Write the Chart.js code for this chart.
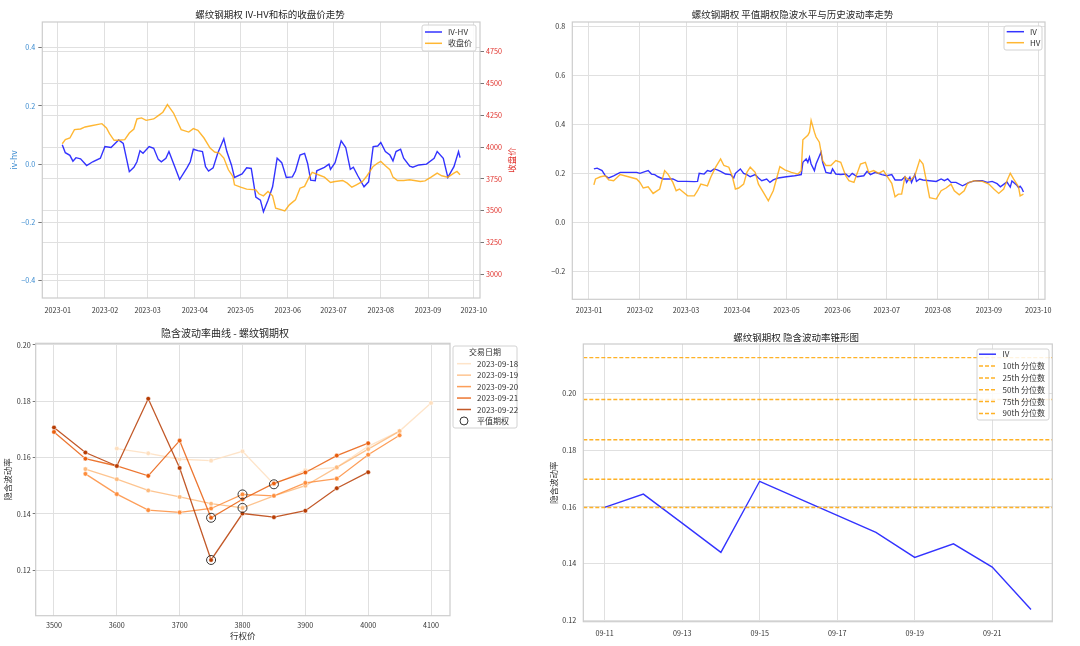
<!DOCTYPE html>
<html lang="zh">
<head>
<meta charset="UTF-8">
<title>螺纹钢期权 波动率分析</title>
<script src="https://cdn.jsdelivr.net/npm/chart.js"></script>
<style>
  body { margin: 0; background: #fff; }
  #wrap { position: relative; width: 1080px; height: 646px; overflow: hidden; }
  canvas { position: absolute; }
</style>
</head>
<body>
<div id="wrap">
  <canvas id="c1" width="540" height="320" style="left:0;top:0"></canvas>
  <canvas id="c2" width="540" height="320" style="left:540px;top:0"></canvas>
  <canvas id="c3" width="540" height="326" style="left:0;top:320px"></canvas>
  <canvas id="c4" width="540" height="326" style="left:540px;top:320px"></canvas>
</div>
<script>
  // ---- 左上：IV-HV 与标的收盘价 ----
  const ivhvDates = ['01-04','01-06','01-09','01-11','01-13','01-16','01-20','01-24','01-29','02-01','02-05','02-10','02-13','02-17','02-20','02-22','02-24','02-26','03-02','03-05','03-08','03-10','03-13','03-15','03-18','03-22','03-27','03-29','03-31','04-03','04-06','04-08','04-10','04-13','04-16','04-20','04-22','04-25','04-27','05-02','05-05','05-08','05-11','05-14','05-16','05-19','05-22','05-25','05-28','05-31','06-04','06-06','06-09','06-12','06-14','06-16','06-19','06-20','06-25','06-28','06-29','07-02','07-06','07-09','07-12','07-14','07-17','07-21','07-24','07-27','07-30','08-01','08-04','08-07','08-09','08-11','08-14','08-16','08-20','08-22','08-26','08-31','09-05','09-07','09-11','09-14','09-18','09-21','09-22'];
  const ivhvValues = [0.066,0.039,0.030,0.010,0.022,0.018,-0.005,0.008,0.020,0.060,0.057,0.083,0.071,-0.026,-0.011,0.008,0.046,0.037,0.060,0.054,0.016,0.008,0.020,0.043,0.002,-0.053,-0.011,0.008,0.051,0.046,0.043,-0.009,-0.024,-0.013,0.037,0.087,0.043,-0.003,-0.046,-0.034,-0.013,-0.015,-0.113,-0.124,-0.164,-0.124,-0.078,0.020,0.005,-0.046,-0.044,-0.024,0.031,0.037,0.002,-0.055,-0.057,-0.023,-0.011,0.000,-0.018,0.005,0.080,0.057,-0.018,-0.011,-0.041,-0.078,-0.061,0.060,0.062,0.074,0.043,0.031,0.011,0.043,0.051,0.020,-0.007,-0.011,-0.003,0.000,0.020,0.043,0.020,-0.046,-0.009,0.043,0.022];
  const closeDates = ['01-04','01-06','01-09','01-12','01-16','01-19','01-23','01-30','02-02','02-04','02-07','02-10','02-14','02-17','02-20','02-22','02-25','02-28','03-05','03-08','03-11','03-14','03-18','03-21','03-23','03-28','03-31','04-03','04-07','04-11','04-14','04-17','04-20','04-23','04-26','04-27','05-01','05-05','05-11','05-13','05-16','05-19','05-22','05-24','05-28','05-30','06-02','06-06','06-09','06-12','06-15','06-17','06-21','06-25','06-29','07-02','07-07','07-10','07-13','07-16','07-20','07-23','07-27','07-30','08-01','08-04','08-07','08-09','08-12','08-16','08-20','08-23','08-27','08-30','09-03','09-07','09-10','09-14','09-18','09-20','09-22'];
  const closeValues = [4026,4058,4071,4137,4142,4158,4168,4184,4150,4105,4053,4053,4058,4110,4142,4221,4229,4210,4221,4247,4274,4334,4268,4189,4137,4118,4145,4131,4071,3992,3961,3953,3913,3821,3768,3703,3684,3669,3663,3632,3616,3650,3616,3519,3506,3498,3545,3584,3676,3690,3763,3800,3782,3763,3721,3729,3737,3716,3684,3703,3729,3774,3847,3874,3887,3853,3821,3763,3737,3737,3742,3737,3729,3734,3763,3795,3774,3763,3795,3808,3782];

  // ---- 右上：平值期权隐波与历史波动率 ----
  const ivDates = ['01-04','01-06','01-09','01-11','01-13','01-16','01-20','01-30','02-01','02-04','02-06','02-08','02-10','02-12','02-15','02-21','02-24','03-01','03-06','03-08','03-09','03-12','03-14','03-16','03-18','03-20','03-22','03-25','03-28','03-30','03-31','04-03','04-05','04-07','04-09','04-12','04-14','04-16','04-19','04-21','04-23','04-26','05-01','05-06','05-10','05-11','05-13','05-14','05-15','05-16','05-18','05-19','05-22','05-23','05-25','05-28','05-29','05-31','06-03','06-06','06-08','06-10','06-13','06-17','06-19','06-21','06-24','06-28','07-01','07-04','07-06','07-10','07-12','07-13','07-15','07-16','07-18','07-19','07-21','07-23','07-27','07-31','08-03','08-05','08-07','08-09','08-12','08-16','08-20','08-24','08-28','08-31','09-03','09-06','09-08','09-11','09-12','09-13','09-14','09-15','09-18','09-19','09-20','09-21','09-22'];
  const ivValues = [0.218,0.221,0.211,0.190,0.181,0.190,0.204,0.204,0.200,0.207,0.211,0.197,0.195,0.186,0.177,0.177,0.167,0.167,0.166,0.167,0.200,0.197,0.211,0.208,0.218,0.214,0.208,0.197,0.195,0.181,0.200,0.218,0.200,0.195,0.186,0.195,0.181,0.170,0.177,0.163,0.173,0.181,0.186,0.190,0.195,0.245,0.259,0.245,0.266,0.238,0.211,0.238,0.286,0.245,0.204,0.200,0.218,0.197,0.195,0.197,0.186,0.200,0.186,0.190,0.208,0.195,0.204,0.195,0.190,0.195,0.173,0.173,0.186,0.163,0.184,0.163,0.195,0.167,0.177,0.173,0.170,0.167,0.177,0.170,0.177,0.163,0.163,0.149,0.163,0.170,0.170,0.163,0.167,0.158,0.145,0.160,0.1645,0.1543,0.144,0.169,0.151,0.142,0.147,0.1388,0.124];
  const hvDates = ['01-04','01-05','01-08','01-11','01-13','01-16','01-20','01-30','02-01','02-03','02-06','02-09','02-13','02-16','02-18','02-21','02-23','02-25','03-02','03-06','03-08','03-10','03-14','03-16','03-19','03-22','03-24','03-27','03-29','03-31','04-02','04-05','04-07','04-09','04-12','04-14','04-17','04-20','04-23','04-27','04-30','05-04','05-08','05-10','05-11','05-14','05-15','05-16','05-18','05-19','05-21','05-23','05-25','05-28','05-31','06-03','06-06','06-08','06-11','06-15','06-18','06-20','06-23','06-26','06-29','07-01','07-04','07-06','07-08','07-10','07-12','07-15','07-18','07-21','07-23','07-25','07-27','07-31','08-03','08-06','08-09','08-11','08-14','08-17','08-19','08-23','08-28','09-01','09-04','09-07','09-10','09-12','09-14','09-16','09-19','09-20','09-22'];
  const hvValues = [0.153,0.177,0.186,0.190,0.173,0.170,0.195,0.177,0.163,0.140,0.145,0.118,0.136,0.211,0.197,0.163,0.129,0.136,0.108,0.108,0.129,0.156,0.149,0.184,0.225,0.259,0.232,0.225,0.190,0.136,0.140,0.156,0.204,0.225,0.204,0.156,0.122,0.088,0.129,0.227,0.214,0.204,0.197,0.211,0.337,0.355,0.368,0.416,0.368,0.348,0.327,0.252,0.232,0.232,0.252,0.245,0.190,0.170,0.163,0.238,0.245,0.204,0.211,0.200,0.211,0.190,0.159,0.104,0.115,0.115,0.186,0.170,0.190,0.255,0.238,0.170,0.101,0.095,0.129,0.140,0.156,0.129,0.112,0.129,0.159,0.170,0.167,0.156,0.136,0.118,0.136,0.170,0.200,0.177,0.145,0.108,0.115];

  // ---- 左下：隐含波动率曲线 ----
  const strikes = [3500,3550,3600,3650,3700,3750,3800,3850,3900,3950,4000,4050,4100];
  const tradeDates = ['2023-09-18','2023-09-19','2023-09-20','2023-09-21','2023-09-22'];
  const smile0918 = [null,null,0.1632,0.1615,0.1594,0.1589,0.1622,0.1505,0.1555,0.1565,0.1640,0.1694,0.1794];
  const smile0919 = [null,0.1559,0.1523,0.1483,0.1460,0.1436,0.1421,0.1464,0.1500,0.1565,0.1630,0.1694,null];
  const smile0920 = [null,0.1542,0.1470,0.1413,0.1405,0.1419,0.1469,0.1464,0.1510,0.1525,0.1610,0.1679,null];
  const smile0921 = [0.1691,0.1596,0.1570,0.1535,0.1660,0.1386,0.1452,0.1508,0.1547,0.1607,0.1651,null,null];
  const smile0922 = [0.1707,0.1618,0.1570,0.1809,0.1563,0.1236,0.1401,0.1388,0.1411,0.1491,0.1548,null,null];
  const atmStrikes = [3850,3800,3800,3750,3750];
  const atmIV = [0.1505,0.1421,0.1469,0.1386,0.1236];

  // ---- 右下：隐含波动率锥形图 ----
  const coneDates = ['09-11','09-12','09-13','09-14','09-15','09-18','09-19','09-20','09-21','09-22'];
  const coneIV = [0.1598,0.1645,0.1543,0.144,0.169,0.151,0.1422,0.147,0.1388,0.1239];
  const quantileNames = ['10th','25th','50th','75th','90th'];
  const quantileValues = [0.1598,0.1697,0.1836,0.1978,0.2125];

  // ---- 刻度 ----
  const monthTicks = ['01-01','02-01','03-01','04-01','05-01','06-01','07-01','08-01','09-01','10-01'];
  const ivhvTicks = [-0.4,-0.2,0,0.2,0.4];
  const closeTicks = [3000,3250,3500,3750,4000,4250,4500,4750];
  const volTicks = [-0.2,0,0.2,0.4,0.6,0.8];
  const strikeTicks = [3500,3600,3700,3800,3900,4000,4100];
  const smileTicks = [0.12,0.14,0.16,0.18,0.20];
  const coneTicks = [0.12,0.14,0.16,0.18,0.20];
  const coneDateTicks = ['09-11','09-13','09-15','09-17','09-19','09-21'];

  const BLUE = 'rgba(0,0,255,0.8)';
  const ORANGE = 'rgba(255,165,0,0.8)';
  const DASH_ORANGE = 'rgba(255,165,0,0.85)';
  const SMILE_COLORS = ['#fedfbf','#fdba7d','#fd8d3c','#e95e0d','#b73c03'];
  const GRID = '#e0e0e0';
  const FRAME = '#cccccc';
  const TEXT = '#333333';
  const TICKBLUE = '#3b8bd0';
  const TICKRED = '#e0302a';
  const FONT = '"Noto Sans CJK SC", "DejaVu Sans", sans-serif';

  Chart.defaults.font.family = FONT;
  Chart.defaults.color = TEXT;

  function dayIndex(md) {
    const [m, d] = md.split('-').map(Number);
    return (Date.UTC(2023, m - 1, d) - Date.UTC(2023, 0, 1)) / 86400000;
  }
  function series(dates, values) {
    return dates.map((d, i) => ({ x: dayIndex(d), y: values[i] }));
  }
  function smileSeries(values) {
    return strikes.map((s, i) => ({ x: s, y: values[i] })).filter(p => p.y !== null);
  }
  function fmt(v, dec) {
    return (v < -1e-9 ? '\u2212' : '') + Math.abs(v).toFixed(dec);
  }
  function withAlpha(hex, a) {
    const n = parseInt(hex.slice(1), 16);
    return `rgba(${n >> 16},${(n >> 8) & 255},${n & 255},${a})`;
  }

  function axis(o) {
    return {
      type: 'linear', position: o.position, min: o.min, max: o.max,
      afterBuildTicks: s => { s.ticks = o.ticks.map(v => ({ value: v })); },
      afterFit: s => { if (o.horizontal) s.height = o.size; else s.width = o.size; },
      grid: { color: GRID, lineWidth: 1, drawTicks: !!o.tickLen, tickLength: o.tickLen || 0, tickColor: '#777' },
      border: { display: false },
      ticks: { autoSkip: false, maxRotation: 0, minRotation: 0, padding: o.pad, color: o.color || TEXT, font: { size: 7.2 }, callback: o.fmt },
      title: o.title ? { display: true, text: o.title, color: o.titleColor || TEXT, font: { size: 8.5 }, padding: o.titlePad } : { display: false }
    };
  }

  const monthDays = monthTicks.map(dayIndex);
  const monthLabel = v => '2023-' + monthTicks[monthDays.indexOf(v)].slice(0, 2);
  const coneDays = coneDateTicks.map(dayIndex);
  const coneLabel = v => coneDateTicks[coneDays.indexOf(v)];

  const framePlugin = {
    id: 'frame',
    afterDatasetsDraw(chart) {
      const { ctx, chartArea: a } = chart;
      ctx.save();
      ctx.strokeStyle = FRAME;
      ctx.lineWidth = 1.2;
      ctx.strokeRect(a.left, a.top, a.right - a.left, a.bottom - a.top);
      ctx.restore();
    }
  };

  function legendPlugin(cfg) {
    return {
      id: 'mplLegend',
      afterDraw(chart) {
        const ctx = chart.ctx;
        ctx.save();
        ctx.beginPath();
        if (ctx.roundRect) ctx.roundRect(cfg.x, cfg.y, cfg.w, cfg.h, 2);
        else ctx.rect(cfg.x, cfg.y, cfg.w, cfg.h);
        ctx.fillStyle = 'rgba(255,255,255,0.85)';
        ctx.fill();
        ctx.strokeStyle = '#d2d2d2';
        ctx.lineWidth = 1;
        ctx.stroke();
        ctx.font = '8px ' + FONT;
        ctx.textBaseline = 'middle';
        if (cfg.title) {
          ctx.fillStyle = TEXT;
          ctx.textAlign = 'center';
          ctx.fillText(cfg.title, cfg.titleX, cfg.titleY);
        }
        cfg.items.forEach((it, i) => {
          const y = cfg.y0 + i * cfg.dy;
          if (it.marker) {
            ctx.beginPath();
            ctx.setLineDash([]);
            ctx.arc((cfg.lx0 + cfg.lx1) / 2, y, 4, 0, Math.PI * 2);
            ctx.strokeStyle = '#333';
            ctx.lineWidth = 1;
            ctx.stroke();
          } else {
            ctx.beginPath();
            ctx.setLineDash(it.dash || []);
            ctx.moveTo(cfg.lx0, y);
            ctx.lineTo(cfg.lx1, y);
            ctx.strokeStyle = it.color;
            ctx.lineWidth = 1.5;
            ctx.stroke();
          }
          ctx.setLineDash([]);
          ctx.fillStyle = TEXT;
          ctx.textAlign = 'left';
          ctx.fillText(it.label, cfg.tx, y);
        });
        ctx.restore();
      }
    };
  }

  const baseOpts = {
    responsive: false, animation: false, devicePixelRatio: 1,
    events: [],
    elements: { point: { radius: 0 }, line: { tension: 0, borderWidth: 1.4 } }
  };
  function titleOpt(text, size, top, bottom) {
    return { display: true, text: text, color: '#262626', font: { size: size, weight: 'normal' }, padding: { top: top, bottom: bottom } };
  }

  // ---------- 图1 ----------
  const rightTitle = {
    id: 'rightTitle',
    afterDraw(chart) {
      const { ctx, chartArea: a } = chart;
      ctx.save();
      ctx.translate(512, (a.top + a.bottom) / 2);
      ctx.rotate(-Math.PI / 2);
      ctx.font = '8.5px ' + FONT;
      ctx.fillStyle = TICKRED;
      ctx.textAlign = 'center';
      ctx.textBaseline = 'middle';
      ctx.fillText('收盘价', 0, 0);
      ctx.restore();
    }
  };
  new Chart(document.getElementById('c1'), {
    type: 'line',
    data: {
      datasets: [
        { label: '收盘价', data: series(closeDates, closeValues), yAxisID: 'y1', borderColor: ORANGE, order: 0 },
        { label: 'IV-HV', data: series(ivhvDates, ivhvValues), yAxisID: 'y', borderColor: BLUE, order: 1 }
      ]
    },
    options: {
      ...baseOpts,
      layout: { padding: { left: 0, right: 0, top: 0, bottom: 0 } },
      plugins: { legend: { display: false }, tooltip: { enabled: false }, title: titleOpt('螺纹钢期权 IV-HV和标的收盘价走势', 9.5, 8.6, 2) },
      scales: {
        x: axis({ position: 'bottom', horizontal: true, min: -10.1, max: 277.1, ticks: monthDays, fmt: monthLabel, size: 22, pad: 8 }),
        y: axis({ position: 'left', min: -0.46, max: 0.488, ticks: ivhvTicks, fmt: v => fmt(v, 1), size: 42.3, pad: 3, tickLen: 4, color: TICKBLUE, title: 'iv-hv', titleColor: TICKBLUE, titlePad: { top: 9 } }),
        y1: axis({ position: 'right', min: 2812, max: 4984, ticks: closeTicks, fmt: v => String(v), size: 60, pad: 2, tickLen: 4, color: TICKRED })
      }
    },
    plugins: [framePlugin, rightTitle, legendPlugin({
      x: 422, y: 25, w: 54, h: 26, y0: 32, dy: 11.3, lx0: 425, lx1: 442, tx: 448,
      items: [{ label: 'IV-HV', color: BLUE }, { label: '收盘价', color: ORANGE }]
    })]
  });

  // ---------- 图2 ----------
  new Chart(document.getElementById('c2'), {
    type: 'line',
    data: {
      datasets: [
        { label: 'HV', data: series(hvDates, hvValues), borderColor: ORANGE, order: 0 },
        { label: 'IV', data: series(ivDates, ivValues), borderColor: BLUE, order: 1 }
      ]
    },
    options: {
      ...baseOpts,
      layout: { padding: { left: 0, right: 35, top: 0, bottom: 0 } },
      plugins: { legend: { display: false }, tooltip: { enabled: false }, title: titleOpt('螺纹钢期权 平值期权隐波水平与历史波动率走势', 9.5, 8.6, 2) },
      scales: {
        x: axis({ position: 'bottom', horizontal: true, min: -10.1, max: 277.1, ticks: monthDays, fmt: monthLabel, size: 20.7, pad: 7 }),
        y: axis({ position: 'left', min: -0.314, max: 0.8175, ticks: volTicks, fmt: v => fmt(v, 1), size: 32.3, pad: 7 })
      }
    },
    plugins: [framePlugin, legendPlugin({
      x: 464, y: 26, w: 38, h: 24, y0: 31.7, dy: 11, lx0: 466.7, lx1: 484, tx: 490,
      items: [{ label: 'IV', color: BLUE }, { label: 'HV', color: ORANGE }]
    })]
  });

  // ---------- 图3 ----------
  const smileData = [smile0918, smile0919, smile0920, smile0921, smile0922];
  const smileSets = smileData.map((vals, i) => ({
    label: tradeDates[i],
    data: smileSeries(vals),
    borderColor: withAlpha(SMILE_COLORS[i], 0.85),
    borderWidth: 1.3,
    pointRadius: 2.3,
    pointBackgroundColor: SMILE_COLORS[i],
    pointBorderColor: '#ffffff',
    pointBorderWidth: 0.5,
    order: 5 - i
  }));
  smileSets.push({
    label: '平值期权',
    data: atmStrikes.map((s, i) => ({ x: s, y: atmIV[i] })),
    showLine: false,
    pointRadius: 4.5,
    pointBackgroundColor: 'rgba(0,0,0,0)',
    pointBorderColor: '#333333',
    pointBorderWidth: 1,
    order: 0
  });
  new Chart(document.getElementById('c3'), {
    type: 'line',
    data: { datasets: smileSets },
    options: {
      ...baseOpts,
      layout: { padding: { left: 0, right: 90, top: 0, bottom: 0 } },
      plugins: { legend: { display: false }, tooltip: { enabled: false }, title: titleOpt('隐含波动率曲线 - 螺纹钢期权', 10, 7.3, 4) },
      scales: {
        x: axis({ position: 'bottom', horizontal: true, min: 3470.9, max: 4130.2, ticks: strikeTicks, fmt: v => String(v), size: 30.3, pad: 5, title: '行权价', titlePad: { bottom: 5.2 } }),
        y: axis({ position: 'left', min: 0.1038, max: 0.2006, ticks: smileTicks, fmt: v => fmt(v, 2), size: 35.7, pad: 2, tickLen: 3, title: '隐含波动率', titlePad: { top: 3 } })
      }
    },
    plugins: [framePlugin, legendPlugin({
      x: 453, y: 26, w: 64, h: 82, title: '交易日期', titleX: 485, titleY: 31.7,
      y0: 43.7, dy: 11.45, lx0: 457, lx1: 471, tx: 477,
      items: tradeDates.map((d, i) => ({ label: d, color: withAlpha(SMILE_COLORS[i], 0.85) })).concat([{ label: '平值期权', marker: true }])
    })]
  });

  // ---------- 图4 ----------
  const coneMin = 252.45, coneMax = 264.55;
  const coneSets = [{ label: 'IV', data: series(coneDates, coneIV), borderColor: BLUE, order: 1 }];
  quantileValues.forEach((q, i) => {
    coneSets.push({
      label: quantileNames[i] + ' 分位数',
      data: [{ x: coneMin, y: q }, { x: coneMax, y: q }],
      borderColor: DASH_ORANGE, borderDash: [4, 2], borderWidth: 1.4, order: 0
    });
  });
  new Chart(document.getElementById('c4'), {
    type: 'line',
    data: { datasets: coneSets },
    options: {
      ...baseOpts,
      layout: { padding: { left: 0, right: 27.7, top: 0, bottom: 0 } },
      plugins: { legend: { display: false }, tooltip: { enabled: false }, title: titleOpt('螺纹钢期权 隐含波动率锥形图', 9.5, 11.6, 1) },
      scales: {
        x: axis({ position: 'bottom', horizontal: true, min: coneMin, max: coneMax, ticks: coneDays, fmt: coneLabel, size: 24.3, pad: 7 }),
        y: axis({ position: 'left', min: 0.1196, max: 0.2173, ticks: coneTicks, fmt: v => fmt(v, 2), size: 43.3, pad: 7, title: '隐含波动率', titlePad: { top: 8.4 } })
      }
    },
    plugins: [framePlugin, legendPlugin({
      x: 437, y: 29, w: 72, h: 71, y0: 34.2, dy: 11.85, lx0: 439, lx1: 456, tx: 462.5,
      items: [{ label: 'IV', color: BLUE }].concat(quantileNames.map(n => ({ label: n + ' 分位数', color: DASH_ORANGE, dash: [4, 2] })))
    })]
  });
</script>
</body>
</html>
